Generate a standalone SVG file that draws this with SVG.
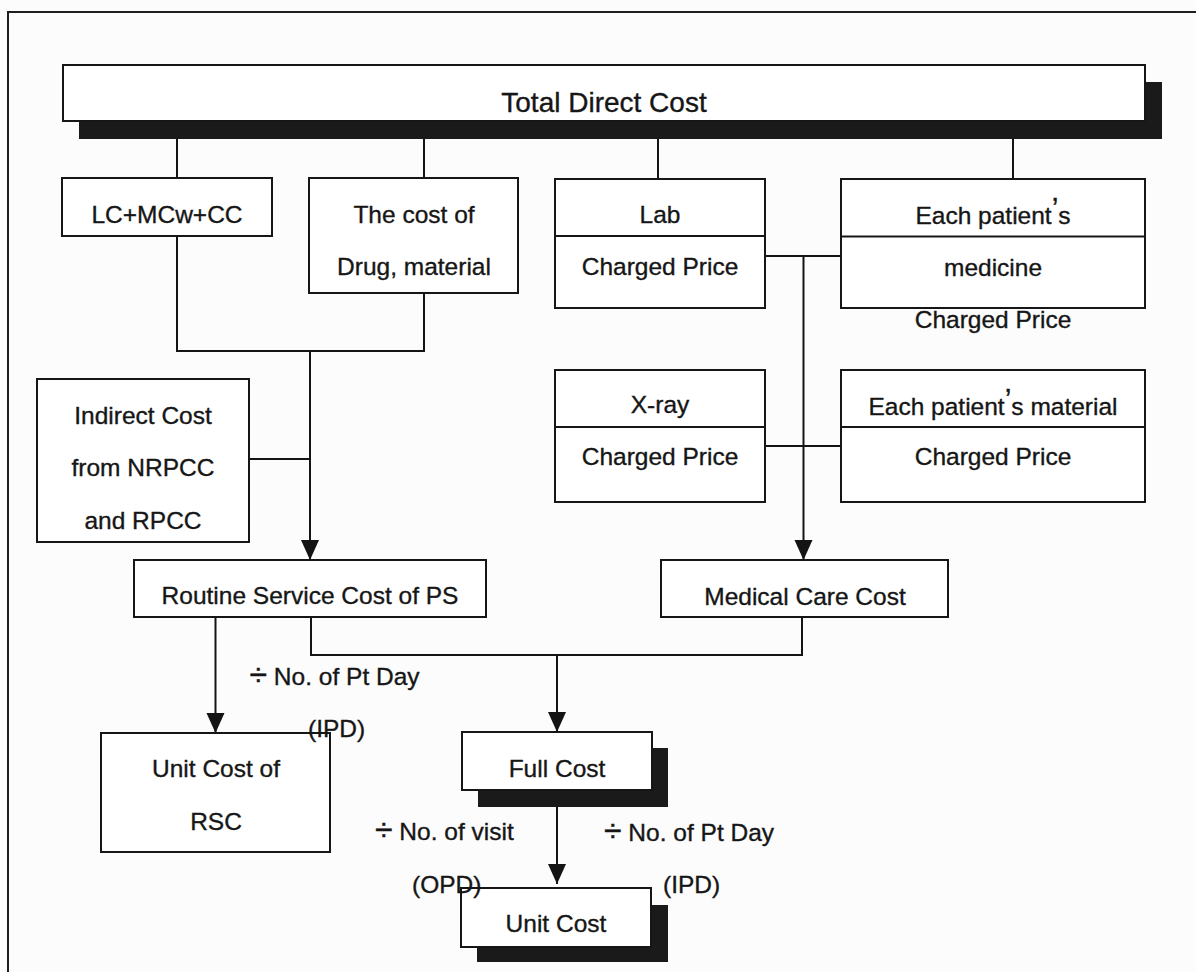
<svg xmlns="http://www.w3.org/2000/svg" width="1196" height="972" viewBox="0 0 1196 972">
  <defs>
    <marker id="arrow" viewBox="0 0 20 20" refX="20" refY="10" markerWidth="20" markerHeight="20" markerUnits="userSpaceOnUse" orient="auto">
      <path d="M0,1 L20,10 L0,19 Z" fill="#141414"/>
    </marker>
    <style>
      .frame { fill: none; stroke: #1e1e1e; stroke-width: 2; }
      .box { fill: #ffffff; stroke: #161616; stroke-width: 2; }
      .shadow { fill: #1a1a1a; stroke: none; }
      .div { stroke: #161616; stroke-width: 2; }
      .wire { fill: none; stroke: #141414; stroke-width: 2; }
      .arr { fill: none; stroke: #141414; stroke-width: 2; marker-end: url(#arrow); }
      text { font-family: "Liberation Sans", Arial, sans-serif; font-size: 24.5px; fill: #161616; stroke: #161616; stroke-width: 0.35px; }
      .c { text-anchor: middle; }
      .title { font-size: 28px; }
      .obelus { font-size: 32px; }
      .apos { font-size: 30px; }
    </style>
  </defs>

  <rect x="0" y="0" width="1196" height="972" fill="#fcfcfc"/>

  <!-- page frame: left and top edges only -->
  <path class="frame" d="M8,972 V12 H1196"/>

  <!-- connectors -->
  <g id="connectors">
    <!-- drops from the total direct cost bar -->
    <path class="wire" d="M177,139 V178 M424,139 V178 M658,139 V179 M1013,139 V179"/>
    <!-- labour/material branch into routine service cost -->
    <path class="wire" d="M177,236 V351 H424 V293"/>
    <path class="wire" d="M249,459 H310"/>
    <path class="arr" d="M310,351 V560"/>
    <!-- charged price branch into medical care cost -->
    <path class="wire" d="M765,256 H841 M765,446 H841"/>
    <path class="arr" d="M803.5,256 V560"/>
    <!-- routine service cost to unit cost of RSC -->
    <path class="arr" d="M215.5,617 V733"/>
    <!-- merge into full cost -->
    <path class="wire" d="M311,617 V655 H802 V617"/>
    <path class="arr" d="M557,655 V732"/>
    <!-- full cost to unit cost -->
    <path class="arr" d="M557,790 V884"/>
  </g>

  <g id="total-direct-cost">
    <rect class="shadow" x="79" y="82" width="1083" height="57"/>
    <rect class="box" x="63" y="65" width="1082" height="56"/>
    <text class="c title" x="604" y="112">Total Direct Cost</text>
  </g>

  <g id="lc-mcw-cc">
    <rect class="box" x="62" y="178" width="210" height="58"/>
    <text class="c" x="167" y="223">LC+MCw+CC</text>
  </g>

  <g id="drug-material">
    <rect class="box" x="309" y="178" width="209" height="115"/>
    <text class="c" x="414" y="223">The cost of</text>
    <text class="c" x="414" y="275">Drug, material</text>
  </g>

  <g id="lab">
    <rect class="box" x="555" y="179" width="210" height="129"/>
    <line class="div" x1="555" y1="236" x2="765" y2="236"/>
    <text class="c" x="660" y="223">Lab</text>
    <text class="c" x="660" y="275">Charged Price</text>
  </g>

  <g id="medicine">
    <rect class="box" x="841" y="179" width="304" height="129"/>
    <line class="div" x1="841" y1="236.5" x2="1145" y2="236.5"/>
    <text class="c" x="993" y="224">Each patient<tspan class="apos" dy="-6">’</tspan><tspan dy="6">s</tspan></text>
    <text class="c" x="993" y="276">medicine</text>
    <text class="c" x="993" y="328">Charged Price</text>
  </g>

  <g id="x-ray">
    <rect class="box" x="555" y="370" width="210" height="132"/>
    <line class="div" x1="555" y1="427" x2="765" y2="427"/>
    <text class="c" x="660" y="413">X-ray</text>
    <text class="c" x="660" y="465">Charged Price</text>
  </g>

  <g id="material">
    <rect class="box" x="841" y="370" width="304" height="132"/>
    <line class="div" x1="841" y1="427" x2="1145" y2="427"/>
    <text class="c" x="993" y="415">Each patient<tspan class="apos" dy="-6">’</tspan><tspan dy="6">s material</tspan></text>
    <text class="c" x="993" y="465">Charged Price</text>
  </g>

  <g id="indirect-cost">
    <rect class="box" x="37" y="379" width="212" height="163"/>
    <text class="c" x="143" y="424">Indirect Cost</text>
    <text class="c" x="143" y="476">from NRPCC</text>
    <text class="c" x="143" y="529">and RPCC</text>
  </g>

  <g id="routine-service-cost">
    <rect class="box" x="134" y="560" width="352" height="57"/>
    <text class="c" x="310" y="604">Routine Service Cost of PS</text>
  </g>

  <g id="medical-care-cost">
    <rect class="box" x="661" y="560" width="287" height="57"/>
    <text class="c" x="805" y="605">Medical Care Cost</text>
  </g>

  <g id="unit-cost-rsc">
    <rect class="box" x="101" y="733" width="229" height="119"/>
    <text class="c" x="216" y="777">Unit Cost of</text>
    <text class="c" x="216" y="830">RSC</text>
  </g>

  <g id="full-cost">
    <rect class="shadow" x="478" y="748" width="190" height="59"/>
    <rect class="box" x="462" y="732" width="190" height="58"/>
    <text class="c" x="557" y="777">Full Cost</text>
  </g>

  <g id="unit-cost">
    <rect class="shadow" x="477" y="905" width="191" height="57"/>
    <rect class="box" x="461" y="888" width="190" height="59"/>
    <text class="c" x="556" y="932">Unit Cost</text>
  </g>

  <!-- divisor labels -->
  <g id="labels">
    <text x="249.5" y="685"><tspan class="obelus">÷</tspan> No. of Pt Day</text>
    <text x="308" y="737">(IPD)</text>
    <text x="375" y="840"><tspan class="obelus">÷</tspan> No. of visit</text>
    <text x="604" y="841"><tspan class="obelus">÷</tspan> No. of Pt Day</text>
    <text x="412" y="893">(OPD)</text>
    <text x="663" y="893">(IPD)</text>
  </g>
</svg>
